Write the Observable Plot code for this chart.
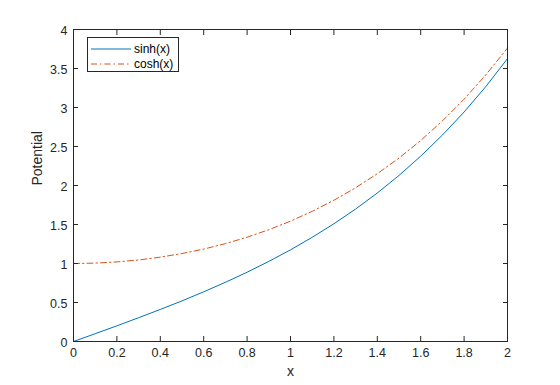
<!DOCTYPE html>
<html>
<head>
<meta charset="utf-8">
<script src="https://cdn.jsdelivr.net/npm/d3@7"></script>
<script src="https://cdn.jsdelivr.net/npm/@observablehq/plot@0.6"></script>
<style>
  body { margin: 0; background: #fff; font-family: "Liberation Sans", Arial, Helvetica, sans-serif; }
  #wrap { position: relative; width: 560px; height: 385px; }
  #legend { position: absolute; left: 87px; top: 37px; width: 92px; height: 35px; border: 1px solid #262626; background: #fff; box-sizing: border-box; font-size: 12px; color: #000; }
  .row { position: absolute; left: 3px; height: 14px; display: flex; align-items: center; }
  .row span { margin-left: 3px; }
  .row svg { display: block; }
</style>
</head>
<body>
<div id="wrap"></div>
<script>
const xs = [0, 0.1, 0.2, 0.3, 0.4, 0.5, 0.6, 0.7, 0.8, 0.9, 1.0, 1.1, 1.2, 1.3, 1.4, 1.5, 1.6, 1.7, 1.8, 1.9, 2.0];
const sinhVals = [0, 0.100, 0.201, 0.305, 0.411, 0.521, 0.637, 0.759, 0.888, 1.027, 1.175, 1.336, 1.509, 1.698, 1.904, 2.129, 2.376, 2.646, 2.942, 3.268, 3.627];
const coshVals = [1, 1.005, 1.020, 1.045, 1.081, 1.128, 1.185, 1.255, 1.337, 1.433, 1.543, 1.669, 1.811, 1.971, 2.151, 2.352, 2.577, 2.828, 3.107, 3.418, 3.762];
const seriesNames = ["sinh(x)", "cosh(x)"];
const xTicks = [0, 0.2, 0.4, 0.6, 0.8, 1, 1.2, 1.4, 1.6, 1.8, 2];
const yTicks = [0, 0.5, 1, 1.5, 2, 2.5, 3, 3.5, 4];
const xLabel = "x";
const yLabel = "Potential";

const sinhData = xs.map((x, i) => ({x, y: sinhVals[i]}));
const coshData = xs.map((x, i) => ({x, y: coshVals[i]}));

const axisColor = "#262626";
const fmt = d => String(d);
const blank = () => "";

const chart = Plot.plot({
  width: 560,
  height: 385,
  marginLeft: 73,
  marginRight: 53,
  marginTop: 29,
  marginBottom: 44,
  style: {fontFamily: '"Liberation Sans", Arial, Helvetica, sans-serif', fontSize: "12px", color: axisColor, background: "#fff"},
  x: {domain: [0, 2]},
  y: {domain: [0, 4]},
  marks: [
    Plot.line(sinhData, {x: "x", y: "y", stroke: "#0072BD", strokeWidth: 1}),
    Plot.line(coshData, {x: "x", y: "y", stroke: "#D95319", strokeWidth: 1, strokeDasharray: "6,3,1.5,3"}),
    Plot.frame({stroke: axisColor, strokeWidth: 1}),
    Plot.axisX(xTicks, {anchor: "bottom", tickSize: -5, tickFormat: blank, label: null, stroke: axisColor}),
    Plot.axisX(xTicks, {anchor: "top", tickSize: -5, tickFormat: blank, label: null, stroke: axisColor}),
    Plot.axisY(yTicks, {anchor: "left", tickSize: -5, tickFormat: blank, label: null, stroke: axisColor}),
    Plot.axisY(yTicks, {anchor: "right", tickSize: -5, tickFormat: blank, label: null, stroke: axisColor}),
    Plot.text(xTicks, {x: d => d, frameAnchor: "bottom", dy: 15.5, text: fmt, fontSize: 12.5, fill: axisColor}),
    Plot.text(yTicks, {y: d => d, frameAnchor: "left", dx: -6, dy: 1, textAnchor: "end", text: fmt, fontSize: 12.5, fill: axisColor}),
    Plot.text([xLabel], {frameAnchor: "bottom", dy: 34, fontSize: 14, fill: axisColor}),
    Plot.text([yLabel], {frameAnchor: "left", dx: -36, rotate: -90, fontSize: 14, fill: axisColor})
  ]
});

const wrap = document.getElementById("wrap");
wrap.appendChild(chart);

const legend = document.createElement("div");
legend.id = "legend";
const dashes = ["", "6,3,1.5,3"];
const colors = ["#0072BD", "#D95319"];
seriesNames.forEach((name, i) => {
  const row = document.createElement("div");
  row.className = "row";
  row.style.top = (4 + i * 15) + "px";
  row.innerHTML = `<svg width="40" height="10"><line x1="0" x2="40" y1="5" y2="5" stroke="${colors[i]}" stroke-width="1" ${dashes[i] ? `stroke-dasharray="${dashes[i]}"` : ""}/></svg><span>${name}</span>`;
  legend.appendChild(row);
});
wrap.appendChild(legend);
</script>
</body>
</html>
